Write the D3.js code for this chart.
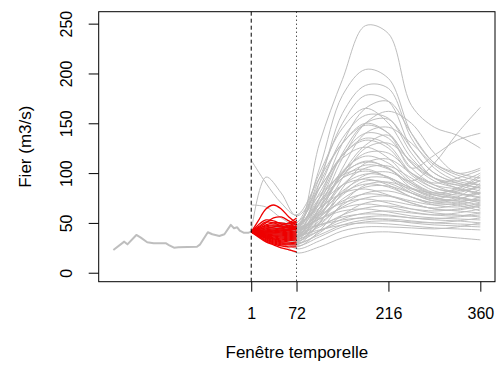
<!DOCTYPE html>
<html>
<head>
<meta charset="utf-8">
<script src="https://cdn.jsdelivr.net/npm/d3@7"></script>
<style>
  html, body { margin: 0; padding: 0; background: #fff; }
  svg text { font-family: "Liberation Sans", Arial, Helvetica, sans-serif; fill: #000; }
</style>
</head>
<body>
<svg id="chart" width="500" height="368"></svg>
<script>
// ---------------- DATA ----------------
const xTicks = [1, 72, 216, 360];
const yTicks = [0, 50, 100, 150, 200, 250];
const xLabel = "Fenêtre temporelle";
const yLabel = "Fier (m3/s)";

// observed history (hours before forecast start)
const historyT = [-215, -198, -193, -179, -172, -162, -152, -133, -128, -120, -113, -84, -79, -67, -60, -49, -41, -31, -26, -21, -17, -11, -3, 1];
const historyV = [22.8, 31.2, 28.5, 37.9, 35.2, 30.6, 29.6, 29.6, 27.8, 25.1, 25.5, 26.1, 28.5, 40.6, 38.6, 36.9, 38.6, 48, 44.6, 45.6, 42.2, 40.2, 40.2, 41.2];

// grey ensemble members (values at greyT)
const greyT = [1, 24, 48, 72, 108, 144, 180, 216, 252, 288, 324, 360];
const greyMembers = [
  [41, 44, 46, 42, 130, 194, 248, 240, 168, 146, 138, 125],
  [41, 43, 45, 44, 105, 178, 204, 195, 140, 110, 100, 95],
  [41, 42, 44, 38, 90, 160, 188, 185, 135, 105, 92, 88],
  [41, 44, 47, 46, 95, 150, 178, 172, 125, 100, 90, 85],
  [41, 42, 43, 35, 75, 130, 165, 172, 140, 110, 98, 92],
  [41, 45, 50, 50, 100, 145, 165, 150, 115, 95, 85, 80],
  [41, 40, 38, 32, 65, 115, 150, 162, 150, 120, 100, 105],
  [41, 43, 46, 42, 85, 135, 158, 155, 120, 95, 88, 82],
  [41, 41, 40, 36, 70, 120, 150, 154, 125, 100, 92, 100],
  [41, 44, 49, 48, 90, 130, 148, 140, 110, 92, 85, 78],
  [41, 42, 41, 34, 60, 105, 140, 146, 130, 108, 95, 88],
  [41, 43, 44, 40, 75, 118, 140, 135, 105, 88, 80, 75],
  [41, 42, 42, 36, 62, 100, 128, 138, 105, 118, 133, 140],
  [41, 43, 44, 38, 65, 98, 112, 105, 92, 110, 140, 166],
  [41, 44, 46, 44, 80, 118, 133, 125, 98, 85, 80, 76],
  [41, 41, 39, 30, 55, 95, 125, 130, 112, 95, 88, 92],
  [41, 43, 47, 47, 85, 115, 126, 115, 92, 80, 76, 72],
  [41, 42, 42, 37, 65, 100, 120, 120, 100, 85, 82, 87],
  [41, 44, 45, 42, 70, 102, 117, 110, 90, 78, 75, 70],
  [41, 40, 37, 28, 50, 85, 110, 114, 100, 90, 95, 103],
  [41, 43, 46, 45, 75, 100, 111, 105, 85, 75, 72, 68],
  [41, 42, 41, 35, 58, 88, 105, 107, 95, 82, 78, 80],
  [41, 44, 48, 50, 78, 98, 104, 95, 80, 72, 70, 65],
  [41, 41, 38, 31, 50, 80, 98, 101, 90, 80, 85, 98],
  [41, 43, 44, 40, 62, 88, 99, 96, 82, 74, 72, 74],
  [41, 42, 43, 38, 58, 82, 95, 95, 85, 76, 73, 84],
  [41, 44, 46, 46, 68, 88, 94, 88, 76, 70, 68, 62],
  [41, 40, 36, 26, 42, 70, 88, 91, 84, 78, 82, 93],
  [41, 43, 45, 42, 60, 80, 89, 86, 76, 68, 66, 70],
  [41, 42, 41, 35, 52, 74, 86, 87, 80, 74, 80, 86],
  [41, 44, 47, 48, 65, 80, 84, 78, 70, 64, 62, 60],
  [41, 41, 39, 33, 48, 68, 80, 82, 76, 70, 74, 80],
  [41, 43, 44, 41, 56, 72, 79, 77, 70, 64, 63, 67],
  [41, 42, 42, 37, 50, 66, 75, 77, 72, 68, 70, 76],
  [41, 44, 46, 44, 58, 70, 74, 70, 64, 60, 58, 56],
  [41, 40, 37, 29, 40, 58, 70, 72, 68, 65, 68, 73],
  [41, 43, 45, 43, 54, 65, 69, 66, 61, 58, 57, 60],
  [41, 42, 41, 36, 46, 58, 65, 67, 64, 62, 64, 68],
  [41, 44, 46, 45, 54, 62, 64, 61, 57, 55, 54, 53],
  [41, 41, 39, 32, 42, 54, 60, 62, 60, 58, 60, 64],
  [41, 43, 44, 40, 48, 56, 59, 58, 55, 53, 52, 50],
  [41, 42, 40, 34, 42, 51, 56, 57, 55, 54, 56, 58],
  [41, 44, 45, 43, 48, 53, 55, 53, 50, 48, 47, 46],
  [41, 41, 37, 27, 36, 46, 51, 52, 51, 50, 52, 55],
  [41, 43, 43, 38, 43, 48, 50, 49, 47, 45, 44, 43],
  [41, 40, 35, 24, 32, 42, 46, 46, 45, 44, 46, 50],
  [41, 38, 31, 20, 26, 35, 40, 41, 39, 37, 35, 33],
  [41, 42, 38, 30, 38, 48, 53, 54, 52, 50, 49, 48],
  [41, 43, 42, 36, 55, 78, 92, 90, 80, 72, 76, 90],
  [41, 44, 47, 47, 72, 95, 102, 96, 85, 80, 84, 96],
  [113, 90, 70, 58, 95, 130, 150, 140, 110, 95, 90, 85],
  [41, 96, 80, 57, 85, 118, 135, 128, 100, 88, 84, 80],
  [68, 66, 55, 48, 70, 95, 108, 104, 88, 78, 75, 72]
];

// red ensemble members (values at redT)
const redT = [1, 12, 24, 36, 48, 60, 72];
const redMembers = [
  [41, 52, 64, 68, 64, 56, 50],
  [41, 45, 50, 55, 56, 52, 48],
  [41, 48, 53, 52, 49, 47, 46],
  [41, 44, 48, 50, 50, 49, 52],
  [41, 42, 44, 46, 48, 50, 55],
  [41, 42, 43, 44, 45, 47, 51],
  [41, 41, 42, 43, 44, 46, 49],
  [41, 41, 41, 42, 43, 44, 47],
  [41, 41, 41, 41, 42, 43, 45],
  [41, 40, 40, 40, 41, 42, 44],
  [41, 40, 40, 40, 40, 41, 42],
  [41, 40, 39, 39, 39, 40, 41],
  [41, 40, 39, 38, 38, 39, 40],
  [41, 40, 38, 37, 37, 38, 39],
  [41, 39, 38, 37, 36, 37, 38],
  [41, 39, 37, 36, 35, 36, 37],
  [41, 39, 37, 35, 34, 35, 36],
  [41, 39, 36, 34, 33, 34, 35],
  [41, 38, 36, 34, 32, 33, 34],
  [41, 38, 35, 33, 31, 32, 33],
  [41, 38, 35, 32, 30, 30, 31],
  [41, 38, 34, 31, 29, 29, 30],
  [41, 37, 33, 30, 28, 28, 28],
  [41, 37, 32, 29, 27, 26, 26],
  [41, 36, 31, 28, 25, 23, 21],
  [41, 43, 45, 45, 44, 43, 44],
  [41, 44, 47, 48, 47, 45, 46],
  [41, 42, 42, 42, 42, 43, 45],
  [41, 43, 46, 47, 46, 45, 47],
  [41, 46, 51, 50, 47, 45, 43]
];

// ---------------- CHART ----------------
const svg = d3.select("#chart");
const box = { left: 98.7, right: 495, top: 11.7, bottom: 281.7 };

const x = d3.scaleLinear().domain([-238, 383]).range([box.left, box.right]);
const y = d3.scaleLinear().domain([-9, 262]).range([box.bottom, box.top]);

const grey = "#BEBEBE";

const lineLin = d3.line().x(d => x(d[0])).y(d => y(d[1]));
const lineSmooth = d3.line().x(d => x(d[0])).y(d => y(d[1])).curve(d3.curveCatmullRom.alpha(0.5));

const plot = svg.append("g");

// history
plot.append("path")
  .datum(d3.zip(historyT, historyV))
  .attr("d", lineLin)
  .attr("fill", "none").attr("stroke", grey).attr("stroke-width", 2)
  .attr("stroke-linejoin", "round");

// grey ensemble
plot.selectAll("path.grey")
  .data(greyMembers)
  .join("path")
  .attr("class", "grey")
  .attr("d", m => lineSmooth(d3.zip(greyT, m)))
  .attr("fill", "none").attr("stroke", grey).attr("stroke-width", 1);

// red ensemble
plot.selectAll("path.red")
  .data(redMembers)
  .join("path")
  .attr("class", "red")
  .attr("d", m => lineSmooth(d3.zip(redT, m)))
  .attr("fill", "none").attr("stroke", "#EE0000").attr("stroke-width", 1.3);

// vertical markers
svg.append("line")
  .attr("x1", x(1)).attr("x2", x(1)).attr("y1", box.top).attr("y2", box.bottom)
  .attr("stroke", "#000").attr("stroke-width", 1).attr("stroke-dasharray", "4,3");
svg.append("line")
  .attr("x1", x(72)).attr("x2", x(72)).attr("y1", box.top).attr("y2", box.bottom)
  .attr("stroke", "#000").attr("stroke-width", 1).attr("stroke-dasharray", "1,3");

// box
svg.append("rect")
  .attr("x", box.left).attr("y", box.top)
  .attr("width", box.right - box.left).attr("height", box.bottom - box.top)
  .attr("fill", "none").attr("stroke", "#000").attr("stroke-width", 1);

// x axis
const xAxis = svg.append("g").attr("transform", `translate(0,${box.bottom})`)
  .call(d3.axisBottom(x).tickValues(xTicks).tickSize(10).tickSizeOuter(0).tickPadding(16));
xAxis.select(".domain").remove();
xAxis.selectAll("text").attr("font-size", 16).attr("fill", "#000")
  .style("font-family", '"Liberation Sans", Arial, sans-serif');
xAxis.selectAll("line").attr("stroke", "#000");

// y axis
const yAxis = svg.append("g").attr("transform", `translate(${box.left},0)`)
  .call(d3.axisLeft(y).tickValues(yTicks).tickSize(10).tickSizeOuter(0));
yAxis.select(".domain").remove();
yAxis.selectAll("line").attr("stroke", "#000");
yAxis.selectAll("text").remove();
yAxis.selectAll(".tick").append("text")
  .attr("transform", `translate(${72 - box.left},0) rotate(-90)`)
  .attr("text-anchor", "middle")
  .attr("font-size", 16)
  .text(d => d);

// axis titles
svg.append("text")
  .attr("x", (box.left + box.right) / 2).attr("y", 358)
  .attr("text-anchor", "middle").attr("font-size", 17)
  .text(xLabel);
svg.append("text")
  .attr("transform", `translate(31,${(box.top + box.bottom) / 2}) rotate(-90)`)
  .attr("text-anchor", "middle").attr("font-size", 17)
  .text(yLabel);
</script>
</body>
</html>
